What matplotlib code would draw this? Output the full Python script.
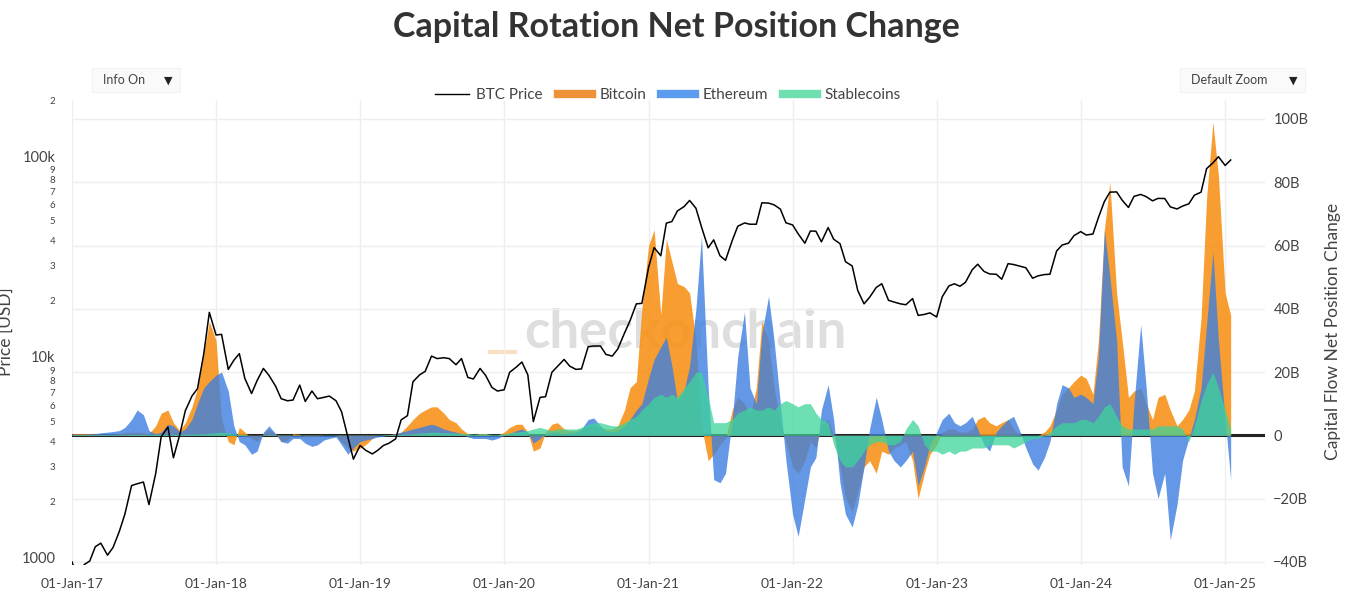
import pandas as pd
import matplotlib
matplotlib.use("Agg")
import matplotlib.pyplot as plt
import matplotlib.dates as mdates
from matplotlib.lines import Line2D
from matplotlib.patches import Rectangle
from matplotlib.ticker import FixedLocator, FixedFormatter, FuncFormatter
from matplotlib.transforms import ScaledTranslation

plt.rcParams['font.family'] = ['Lato', 'DejaVu Sans']

# =========================
# DATA (semi-monthly: 1st and 15th, Jan-2017 .. Jan-2025)
# =========================
dates = pd.date_range("2017-01-01", "2025-01-15", freq="SMS")

btc_price = [
    1000, 830, 970, 1010, 1190, 1240, 1080, 1180, 1420, 1730, 2400, 2450, 2500, 1930, 2750, 4200, 4700, 3300, 4300, 5650, 6700, 7300, 10900, 17500,
    13500, 13600, 9100, 10100, 10900, 8200, 6900, 8000, 9200, 8500, 7500, 6500, 6350, 6400, 7600, 6300, 7100, 6500, 6600, 6700, 6350, 5600, 4200, 3250,
    3800, 3600, 3450, 3600, 3800, 3900, 4100, 5100, 5350, 7900, 8550, 8900, 10600, 10300, 10400, 10300, 9600, 10300, 8300, 8150, 9200, 8500, 7400, 7100,
    7200, 8800, 9350, 9900, 8550, 5000, 6600, 6650, 8800, 9400, 10200, 9450, 9100, 9150, 11800, 11900, 11900, 10800, 10600, 11500, 13800, 15900, 19300, 19400,
    29300, 36800, 33500, 48700, 49600, 56000, 58900, 63200, 57800, 46700, 36700, 40200, 33500, 31800, 39900, 47000, 48800, 48100, 48100, 61500, 61300, 60100, 57200, 48900,
    47700, 43100, 38700, 44500, 44400, 39300, 46300, 40500, 38500, 31300, 29800, 22500, 19300, 20800, 23300, 24300, 20100, 19700, 19300, 19100, 20500, 16900, 17100, 17400,
    16600, 20900, 23700, 24300, 23600, 24700, 28500, 30400, 28000, 27200, 27100, 25600, 30600, 30300, 29700, 29200, 25900, 26600, 27000, 27100, 35400, 37900, 38700, 42200,
    44200, 42500, 43000, 52000, 62400, 69500, 69700, 63400, 58300, 66200, 67700, 66000, 62900, 64700, 64600, 58700, 57300, 59200, 60800, 67100, 69500, 91000, 97200, 104400,
    94400, 100500,
]

# net position change, billions USD
bitcoin = [
    0.5, 0.5, 0.5, 0.5, 0.4, 0.3, 0.3, 0.3, 0.5, 0.8, 1.0, 1.0, 0.8, 0.5, 3.0, 7.0, 8.0, 4.0, 1.5, 4.0, 9.0, 15.0, 26.0, 36.0,
    30, 5, -2, -3, 2.5, 1, -1, -2, 0.5, 2, 0.5, -2, -1.5, 0.5, 0.3, -0.5, -0.5, -0.3, 0, 0, 0, -2, -4, -5,
    -4, -3, -1, 0, 0, 0.2, 0.5, 1, 3, 5, 7, 8, 9, 9, 7, 5, 4, 2, 0.5, 0, 0.5, 0.5, 0, 0,
    1, 2.5, 3.5, 3.5, 1, -5, -4, 1, 3.5, 4, 2, 1.5, 1.5, 2, 3, 3, 2.5, 2, 2, 3, 8, 15, 17, 40,
    60, 65, 38, 62, 55, 48, 47, 45, 30, 3, -8, -6, -3, -1, 8, 12, 10, 6, 15, 36, 30, 15, 4, -2,
    -10, -12, -8, -2, -4, 3, 5, 0, -10, -20, -24, -18, -10, -8, -12, -5, -6, -4, -3, -2, -8, -20, -12, -6,
    -3, 1, 2, 2, 1, 1, 2, 5, 6, 4, 3, 4, 5, 2, 0, 0, 0, 0, 1, 3, 8, 13, 15, 17,
    19, 18, 13, 30, 65, 80, 45, 30, 12, 14, 15, 10, 5, 12, 13, 8, 3, 5, 8, 14, 37, 75, 99, 82,
    45, 38,
]

ethereum = [
    0.3, 0.3, 0.3, 0.4, 0.5, 0.8, 1.0, 1.2, 1.5, 2.5, 5.0, 8.0, 6.5, 1.5, 0.5, 1.0, 3.5, 3.0, 1.0, 2.0, 5.0, 10.0, 15.0, 17.0,
    19, 20, 14, 3, -2, -3, -6, -5, 1, 3, 0.5, -2, -2.5, -1, -1, -2.5, -3.5, -3, -1.5, -1, -0.5, -3, -6, -4,
    -2, -1.5, -1, -0.5, -0.3, 0, 0.5, 1, 1.5, 2, 2.5, 3, 3.5, 3, 2, 1.5, 1, 0.5, -0.5, -1, -1, -1, -1.5, -1,
    0, 0.5, 1.5, 2, 1, -2.5, -1, 0.5, 1, 1, 0.5, 0.8, 1, 2, 5, 5.5, 3, 1.5, 1, 1.5, 3, 5, 8, 10,
    18, 24, 28, 31, 22, 11, 14, 22, 40, 63, 15, -14, -15, -12, 5, 25, 39, 15, 10, 32, 44, 30, 10, -8,
    -25, -32, -20, -10, -7, 8, 16, 5, -15, -25, -29, -22, -10, 2, 12, 5, -5, -8, -10, -8, -5, -16, -10, -3,
    1, 5, 7, 4, 3, 4, 6, 2, -3, -5, 1, 3, 5, 6, 1, -4, -9, -11, -7, -2, 10, 16, 15, 12,
    13, 12, 10, 25, 65, 50, 30, -10, -16, 10, 35, 15, -12, -20, -12, -33, -22, -8, -1, 5, 15, 35, 58, 30,
    5, -14,
]

stablecoins = [
    0.2, 0.2, 0.2, 0.2, 0.2, 0.2, 0.2, 0.2, 0.2, 0.2, 0.3, 0.3, 0.3, 0.3, 0.3, 0.3, 0.3, 0.3, 0.3, 0.4, 0.4, 0.4, 0.5, 0.6,
    0.8, 1.0, 0.8, 0.5, 0.3, 0.2, 0, 0, 0.1, 0.2, 0.2, 0.1, 0.1, 0.1, 0.1, 0.1, 0.1, 0.1, 0.1, 0.1, 0.1, 0.1, 0.1, 0.1,
    0.1, 0.1, 0.1, 0.1, 0.2, 0.2, 0.2, 0.3, 0.4, 0.5, 0.7, 0.8, 1.0, 1.0, 0.8, 0.8, 0.7, 0.6, 0.5, 0.4, 0.5, 0.5, 0.3, 0.3,
    0.5, 0.8, 1.0, 1.2, 1.5, 2.0, 2.5, 2.0, 1.5, 2.0, 2.0, 2.0, 2.0, 2.5, 3.5, 4.0, 4.0, 3.5, 3.0, 3.0, 4.0, 5.0, 6.0, 8.0,
    10, 12, 13, 12, 13, 12, 15, 17, 20, 20, 12, 4, 4, 4, 5, 7, 8, 9, 8, 8, 9, 8, 10, 11,
    10, 9, 10, 10, 7, 5, 4, -3, -8, -10, -10, -8, -5, -3, -2, -2, -3, -3, -2, 2, 5, 3, -3, -5,
    -5, -6, -5, -6, -5, -5, -4, -4, -4, -3, -3, -3, -3, -4, -3, -2, -1, -1, 0, 1, 3, 4, 4, 4,
    5, 5, 4, 6, 9, 10, 6, 3, 2, 2, 2, 2, 2, 3, 3, 3, 3, 2, -2, 3, 11, 16, 20, 15,
    8, 2,
]

flow_ticks = [-40, -20, 0, 20, 40, 60, 80, 100]
price_major = [1000, 10000, 100000]
price_major_labels = ["1000", "10k", "100k"]
price_minor = [2000, 3000, 4000, 5000, 6000, 7000, 8000, 9000,
               20000, 30000, 40000, 50000, 60000, 70000, 80000, 90000, 200000]
price_minor_labels = ["2", "3", "4", "5", "6", "7", "8", "9",
                      "2", "3", "4", "5", "6", "7", "8", "9", "2"]

# =========================
# STYLE
# =========================
BTC_C, ETH_C, ST_C = "#f7931a", "#3d7fe0", "#3ed39a"
TXT = "#444444"

fig = plt.figure(figsize=(13.52, 5.96), dpi=100)
ax = fig.add_axes([72 / 1352, 1 - 565 / 596, (1265 - 72) / 1352, 465 / 596])
axp = ax.twinx()

# flows (right axis)
ax.axhline(0, color="#222222", lw=2.2, zorder=1.5)
ax.fill_between(dates, 0, bitcoin, color=BTC_C, alpha=0.9, lw=0, zorder=2)
ax.fill_between(dates, 0, ethereum, color=ETH_C, alpha=0.8, lw=0, zorder=2.1)
ax.fill_between(dates, 0, stablecoins, color=ST_C, alpha=0.75, lw=0, zorder=2.2)

ax.set_ylim(-41, 106)
ax.yaxis.tick_right()
ax.yaxis.set_major_locator(FixedLocator(flow_ticks))
ax.yaxis.set_major_formatter(FuncFormatter(
    lambda v, p: "0" if v == 0 else f"{int(v)}B".replace("-", "\u2212")))
ax.grid(True, color="#eeeeee", lw=1)
ax.set_axisbelow(True)

# watermark
ax.text(0.514, 0.50, "checkonchain", transform=ax.transAxes, ha="center", va="center",
        fontsize=38, fontweight="bold", color="#c8c8c8", alpha=0.6, zorder=0.5)
ax.plot([0.350, 0.371], [0.458, 0.458], transform=ax.transAxes, color="#f7c89a",
        lw=3, alpha=0.6, zorder=0.5)

# price (left axis, log)
axp.plot(dates, btc_price, color="black", lw=1.1, zorder=5)
axp.set_yscale("log")
axp.set_ylim(965, 200000)
axp.yaxis.tick_left()
axp.yaxis.set_major_locator(FixedLocator(price_major))
axp.yaxis.set_major_formatter(FixedFormatter(price_major_labels))
axp.yaxis.set_minor_locator(FixedLocator(price_minor))
axp.yaxis.set_minor_formatter(FixedFormatter(price_minor_labels))

ax.set_xlim(pd.Timestamp("2017-01-01"), pd.Timestamp("2025-04-12"))
ax.xaxis.set_major_locator(mdates.YearLocator())
ax.xaxis.set_major_formatter(mdates.DateFormatter("%d-%b-%y"))

for a in (ax, axp):
    for s in a.spines.values():
        s.set_visible(False)
ax.tick_params(axis="x", length=0, pad=9, labelsize=10, labelcolor=TXT)
ax.tick_params(axis="y", length=0, pad=6, labelsize=10.5, labelcolor=TXT)
axp.tick_params(axis="y", which="major", length=0, pad=12, labelsize=10.5, labelcolor=TXT)
axp.tick_params(axis="y", which="minor", length=0, pad=12, labelsize=7, labelcolor=TXT)

# nudge the major price labels up a little so they clear the minor digits
fig.canvas.draw()
lift = ScaledTranslation(0, 3 / 72, fig.dpi_scale_trans)
for lbl in axp.yaxis.get_majorticklabels():
    lbl.set_transform(lbl.get_transform() + lift)

# =========================
# TEXT
# =========================
fig.text(0.5, 1 - 27 / 596, "Capital Rotation Net Position Change", ha="center", va="center",
         fontsize=24.5, fontweight="bold", color="#333333")
fig.text(6 / 1352, 1 - 332 / 596, "Price [USD]", rotation=90, ha="center", va="center",
         fontsize=12.5, color=TXT)
fig.text(1333 / 1352, 1 - 331 / 596, "Capital Flow Net Position Change", rotation=90,
         ha="center", va="center", fontsize=12.5, color=TXT)

handles = [
    Line2D([], [], color="black", lw=1),
    Line2D([], [], color="#f0923a", lw=6),
    Line2D([], [], color="#5b9cf0", lw=6),
    Line2D([], [], color="#6ee0b0", lw=6),
]
fig.legend(handles, ["BTC Price", "Bitcoin", "Ethereum", "Stablecoins"], loc="center",
           bbox_to_anchor=(0.494, 1 - 95 / 596), ncol=4, frameon=False, fontsize=11,
           handlelength=2.2, handletextpad=0.5, columnspacing=1.0, labelcolor=TXT)

# dropdown boxes
for x0, w, label in [(92, 88, "Info On"), (1180, 125, "Default Zoom")]:
    fig.patches.append(Rectangle((x0 / 1352, 1 - 92 / 596), w / 1352, 24 / 596,
                                 transform=fig.transFigure, facecolor="#fafafa",
                                 edgecolor="#f2f2f2", lw=0.8))
    fig.text((x0 + 11) / 1352, 1 - 80 / 596, label, ha="left", va="center",
             fontsize=9, color=TXT)
    fig.text((x0 + w - 12) / 1352, 1 - 80 / 596, "\u25bc", ha="center", va="center",
             fontsize=8, color="#222222")

fig.savefig("out.png", dpi=100)
